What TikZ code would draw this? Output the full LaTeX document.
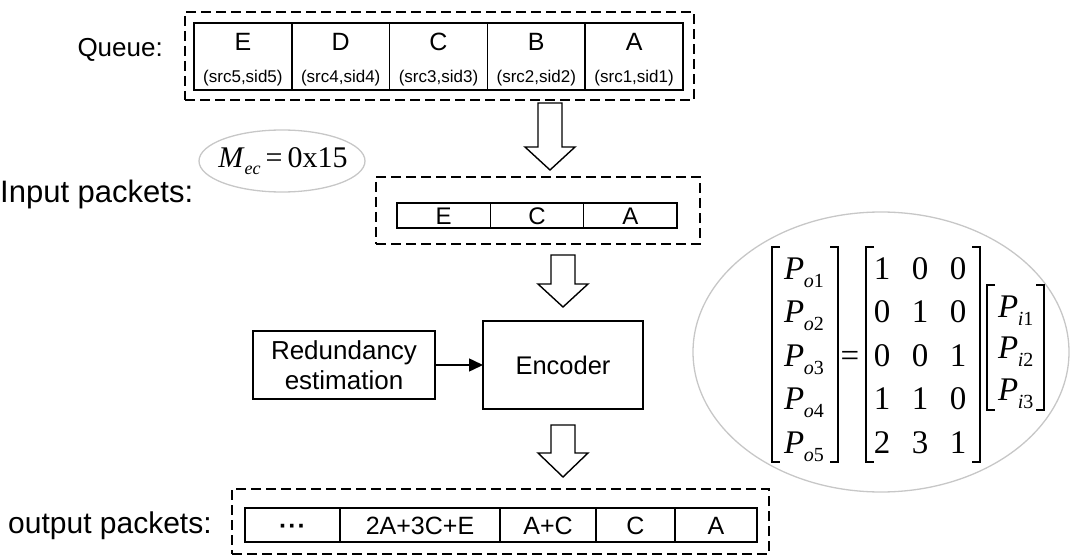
\documentclass[tikz,border=0pt]{standalone}
\usepackage{fontspec}
\setmainfont{Liberation Sans}
\newfontfamily\tmsfont{Liberation Serif}
\usetikzlibrary{arrows.meta,shapes.geometric}
\newcommand\mysubP[1]{\textit{P}\kern-0.5pt\raisebox{-8pt}{\fontsize{20}{20}\selectfont #1}}
\begin{document}
\begin{tikzpicture}[x=1pt,y=-1pt,
 cell/.style={draw, line width=1.6pt, inner sep=0pt, outer sep=0pt},
 dbox/.style={draw, line width=1.3pt, dash pattern=on 10pt off 5pt, inner sep=0pt, outer sep=0pt},
 txt/.style={inner sep=0pt, anchor=base},
 big/.style={txt, font=\fontsize{24}{28}\selectfont},
 small/.style={txt, font=\fontsize{17}{20}\selectfont},
 lbl/.style={inner sep=0pt, font=\fontsize{25}{30}\selectfont},
 mth/.style={txt, font=\tmsfont\fontsize{33}{33}\selectfont},
 brk/.style={line width=1.3pt},
 barr/.style={draw, line width=1.4pt, fill=white, line join=miter},
 oval/.style={draw=black!22, line width=1.3pt}
]
\useasboundingbox (0,0) rectangle (1073,556);

% labels
\node[lbl, anchor=base east, font=\fontsize{26}{30}\selectfont] (lq) at (163,57) {Queue:};
\node[lbl, anchor=base west, font=\fontsize{31}{36}\selectfont] (li) at (0,203) {Input packets:};
\node[lbl, anchor=base west, font=\fontsize{30}{36}\selectfont] (lo) at (8,533) {output packets:};

% queue
\node[dbox, minimum width=509pt, minimum height=88pt] (qbox) at (439.5,56) {};
\foreach \L/\n [count=\k] in {E/5,D/4,C/3,B/2,A/1}{
  \node[cell, minimum width=97.8pt, minimum height=67pt] (q\n) at ({194+97.8*(\k-0.5)},56.5) {};
  \node[big, font=\fontsize{25}{28}\selectfont] (qL\n) at ({194+97.8*(\k-0.5)},50.5) {\L};
  \node[small] (qS\n) at ({194+97.8*(\k-0.5)},83) {(src\n,sid\n)};
}

% arrow 1
\draw[barr] (538,103) -- (562,103) -- (562,147) -- (575,147) -- (550,170) -- (525,147) -- (538,147) -- cycle;

% M_ec
\draw[oval] (282,161) ellipse [x radius=83pt, y radius=31pt];
\node[inner sep=0pt, font=\tmsfont\fontsize{30}{32}\selectfont] (mec) at (283,161)
  {\textit{M}\raisebox{-7pt}{\fontsize{18}{18}\selectfont\textit{ec}}\kern5pt=\kern5pt0x15};

% input packets
\node[dbox, minimum width=324pt, minimum height=67pt] (ibox) at (538,210.5) {};
\foreach \L [count=\k] in {E,C,A}{
  \node[cell, minimum width=93.33pt, minimum height=25pt] (in\L) at ({397+93.33*(\k-0.5)},215.5) {};
  \node[big] (inT\L) at ({397+93.33*(\k-0.5)},224) {\L};
}

% arrow 2
\draw[barr] (551,255) -- (575,255) -- (575,284) -- (588,284) -- (563,307) -- (538,284) -- (551,284) -- cycle;

% encoder and redundancy
\node[cell, minimum width=160pt, minimum height=88pt, font=\fontsize{25.5}{30}\selectfont] (enc) at (563,365) {Encoder};
\node[cell, minimum width=182pt, minimum height=68pt, align=center, font=\fontsize{26}{30}\selectfont] (red) at (344,365) {Redundancy\\estimation};
\draw[line width=1.5pt, -{Triangle[length=14pt,width=13pt]}] (red) -- (enc);

% arrow 3
\draw[barr] (551,425) -- (575,425) -- (575,453) -- (588,453) -- (563,477) -- (538,453) -- (551,453) -- cycle;

% output packets
\node[dbox, minimum width=537pt, minimum height=65pt] (obox) at (500.5,521.5) {};
\foreach \a/\b/\t [count=\k] in {245/340/{\textbf{·\kern1pt·\kern1pt·}}, 340/500/{2A+3C+E}, 500/596/{A+C}, 596/675/C, 675/757/A}{
  \node[cell, minimum width={(\b-\a)*1pt}, minimum height=34pt] (out\k) at ({(\a+\b)/2},525) {};
  \node[big, font=\fontsize{25}{28}\selectfont] (outT\k) at ({(\a+\b)/2},534) {\t};
}

% big ellipse with equation
\draw[oval] (881,352) ellipse [x radius=188pt, y radius=140pt];
\foreach \r in {1,...,5}{
  \node[mth, anchor=base west] (po\r) at (784,{279+43.5*(\r-1)}) {\mysubP{\textit{o}\r}};
}
\node[mth] (eq) at (850,366) {=};
\foreach \a/\b/\c [count=\r] in {1/0/0, 0/1/0, 0/0/1, 1/1/0, 2/3/1}{
  \node[mth] (ma\r) at (882,{279+43.5*(\r-1)}) {\a};
  \node[mth] (mb\r) at (920,{279+43.5*(\r-1)}) {\b};
  \node[mth] (mc\r) at (958,{279+43.5*(\r-1)}) {\c};
}
\foreach \r in {1,2,3}{
  \node[mth, anchor=base west] (pi\r) at (998,{317+41.5*(\r-1)}) {\mysubP{\textit{i}\r}};
}
% brackets
\draw[brk] (780,247) -- (772,247) -- (772,462) -- (780,462);
\draw[brk] (830,247) -- (838,247) -- (838,462) -- (830,462);
\draw[brk] (874,247) -- (866,247) -- (866,462) -- (874,462);
\draw[brk] (972,247) -- (980,247) -- (980,462) -- (972,462);
\draw[brk] (995,285) -- (987,285) -- (987,410) -- (995,410);
\draw[brk] (1036,285) -- (1044,285) -- (1044,410) -- (1036,410);
\end{tikzpicture}
\end{document}
